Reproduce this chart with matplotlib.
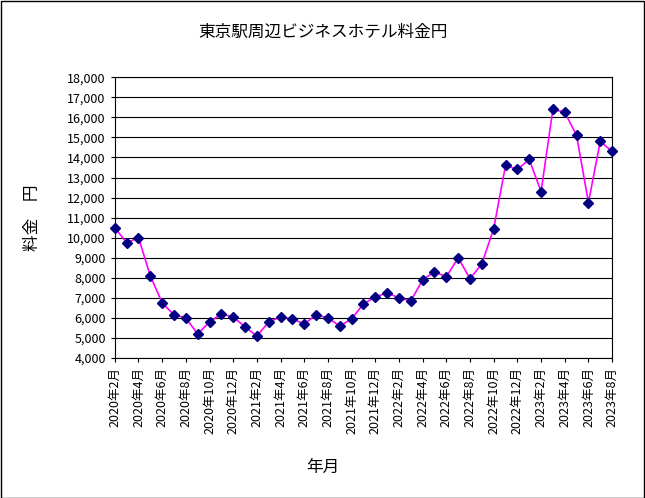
import matplotlib.pyplot as plt
import numpy as np

plt.rcParams['font.family'] = 'Noto Sans CJK JP'

# monthly hotel price, 2020-02 .. 2023-08
months = []
for y in range(2020, 2024):
    for m in range(1, 13):
        if (y == 2020 and m < 2) or (y == 2023 and m > 8):
            continue
        months.append(f"{y}年{m}月")

prices = [10500, 9750, 10000, 8100, 6750, 6150, 6000, 5200, 5800, 6200, 6050,
          5550, 5100, 5800, 6050, 5950, 5700, 6150, 6000, 5600, 5950, 6700, 7050,
          7250, 7000, 6850, 7900, 8300, 8050, 9000, 7950, 8700, 10450, 13600, 13400,
          13900, 12300, 16400, 16250, 15100, 11750, 14800, 14300]

fig = plt.figure(figsize=(6.45, 4.98), dpi=100)
fig.patches.append(plt.Rectangle((0.001, 0.001), 0.997, 0.997, transform=fig.transFigure,
                                 fill=False, edgecolor='black', linewidth=1))
ax = fig.add_axes([0.178, 0.281, 0.771, 0.564])

x = np.arange(len(prices))
ax.plot(x, prices, color='#ff00ff', linewidth=1.2, marker='D', markersize=5,
        markerfacecolor='#000080', markeredgecolor='#000080', clip_on=False, zorder=3)

ax.set_xlim(0, len(prices) - 1)
ax.set_ylim(4000, 18000)
ax.set_yticks(range(4000, 18001, 1000))
ax.set_yticklabels([f"{v:,}" for v in range(4000, 18001, 1000)], fontsize=9)
ax.set_xticks(x[::2])
ax.set_xticklabels(months[::2], rotation=90, fontsize=9)
ax.yaxis.grid(True, color='black', linewidth=0.8)
ax.tick_params(direction='out', length=3)
for s in ax.spines.values():
    s.set_linewidth(0.8)

fig.text(0.5, 0.935, "東京駅周辺ビジネスホテル料金円", ha='center', va='center', fontsize=12)
fig.text(0.5, 0.062, "年月", ha='center', va='center', fontsize=12)
fig.text(0.05, 0.563, "料金　円", ha='center', va='center', rotation=90, fontsize=12)

plt.savefig("out.png")
